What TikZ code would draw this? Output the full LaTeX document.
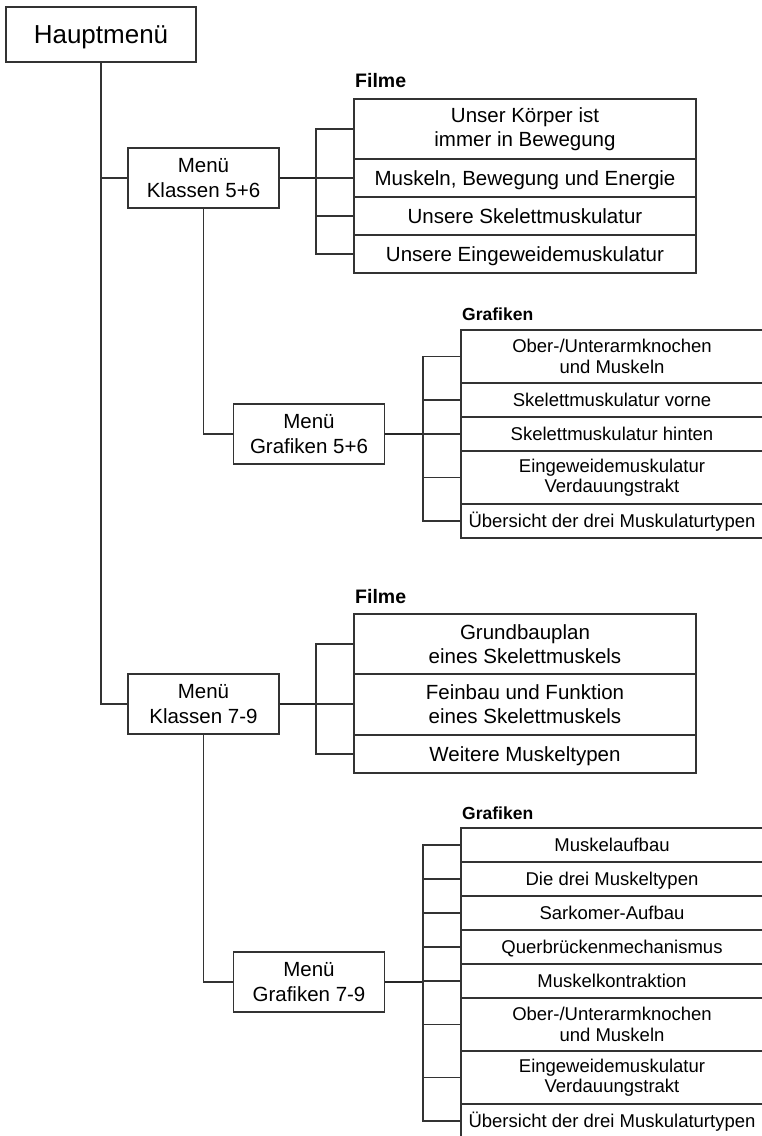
\documentclass[tikz,border=0pt]{standalone}
\usepackage{fontspec}
\setmainfont{Liberation Sans}

\begin{document}
\begin{tikzpicture}[x = 1pt, y = -1pt,
  menu/.style = {draw = black!80, line width = 1.2pt, fill = white, inner sep = 0pt, align = center,
    minimum width = 151pt, minimum height = 60pt, font = \fontsize{20.5}{24.5}\selectfont},
  top/.style = {menu, line width = 2pt, minimum width = 190pt, minimum height = 55pt,
    font = \fontsize{26}{30}\selectfont, text height = 18.6pt, text depth = 0pt},
  film/.style = {draw = black!80, line width = 1.2pt, inner sep = 0pt, align = center,
    minimum width = 342pt, font = \fontsize{20.5}{23.5}\selectfont},
  grafik/.style = {draw = black!80, line width = 1.2pt, inner sep = 0pt, align = center,
    minimum width = 302pt, font = \fontsize{18.5}{20.5}\selectfont},
  filmline/.style = {film, text height = 14.7pt, text depth = 0pt},
  grafikline/.style = {grafik, text height = 13.2pt, text depth = 0pt},
  head/.style = {anchor = west, inner sep = 0pt, font = \bfseries\fontsize{19.5}{22}\selectfont},
  subhead/.style = {head, font = \bfseries\fontsize{17.5}{20}\selectfont},
  link/.style = {draw = black!80, line width = 1.2pt},
  trunk/.style = {draw = black!85, line width = 1.8pt}]
\useasboundingbox (0, 0) rectangle (761, 1136);

% menus
\node[top] (haupt) at (101, 34.5){Hauptmen\"u};
\node[menu] (k56) at (203.5, 178){Men\"u\\Klassen 5+6};
\node[menu] (g56) at (309, 434){Men\"u\\Grafiken 5+6};
\node[menu] (k79) at (203.5, 704){Men\"u\\Klassen 7-9};
\node[menu] (g79) at (309, 982){Men\"u\\Grafiken 7-9};

% Filme 5+6
\node[head] (filmA) at (355, 81){Filme};
\node[film, minimum height = 60pt] (fa1) at (525, 129){Unser K\"orper ist\\immer in Bewegung};
\node[filmline, minimum height = 38pt] (fa2) at (525, 178){Muskeln, Bewegung und Energie};
\node[filmline, minimum height = 38pt] (fa3) at (525, 216){Unsere Skelettmuskulatur};
\node[filmline, minimum height = 38pt] (fa4) at (525, 254){Unsere Eingeweidemuskulatur};

% Grafiken 5+6
\node[subhead] (grafA) at (462, 314){Grafiken};
\node[grafik, minimum height = 53pt] (ga1) at (612, 356.5){Ober-/Unterarmknochen\\und Muskeln};
\node[grafikline, minimum height = 34pt] (ga2) at (612, 400){Skelettmuskulatur vorne};
\node[grafikline, minimum height = 34pt] (ga3) at (612, 434){Skelettmuskulatur hinten};
\node[grafik, minimum height = 53pt] (ga4) at (612, 477.5){Eingeweidemuskulatur\\Verdauungstrakt};
\node[grafikline, minimum height = 34pt] (ga5) at (612, 521){\"Ubersicht der drei Muskulaturtypen};

% Filme 7-9
\node[head] (filmB) at (355, 596.5){Filme};
\node[film, minimum height = 60pt] (fb1) at (525, 644){Grundbauplan\\eines Skelettmuskels};
\node[film, minimum height = 61pt] (fb2) at (525, 704){Feinbau und Funktion\\eines Skelettmuskels};
\node[filmline, minimum height = 38pt] (fb3) at (525, 754){Weitere Muskeltypen};

% Grafiken 7-9
\node[subhead] (grafB) at (462, 813){Grafiken};
\node[grafikline, minimum height = 34pt] (gb1) at (612, 845){Muskelaufbau};
\node[grafikline, minimum height = 34pt] (gb2) at (612, 879){Die drei Muskeltypen};
\node[grafikline, minimum height = 34pt] (gb3) at (612, 913){Sarkomer-Aufbau};
\node[grafikline, minimum height = 34pt] (gb4) at (612, 947){Querbr\"uckenmechanismus};
\node[grafikline, minimum height = 34pt] (gb5) at (612, 981){Muskelkontraktion};
\node[grafik, minimum height = 53pt] (gb6) at (612, 1024.5){Ober-/Unterarmknochen\\und Muskeln};
\node[grafik, minimum height = 53pt] (gb7) at (612, 1077.5){Eingeweidemuskulatur\\Verdauungstrakt};
\node[grafikline, minimum height = 34pt] (gb8) at (612, 1121){\"Ubersicht der drei Muskulaturtypen};

% branch points
\coordinate (bk56) at (316, 178);
\coordinate (bg56) at (423, 434);
\coordinate (bk79) at (316, 704);
\coordinate (bg79) at (423, 982);

% tree
\draw[link] (haupt.south) |- (k56.west);
\draw[link] (haupt.south) |- (k79.west);
\draw[link] (k56.south) |- (g56.west);
\draw[link] (k79.south) |- (g79.west);

\draw[trunk] (k56.east) -- (bk56);
\draw[link] (bk56) |- (fa1.west);
\draw[link] (bk56) |- (fa2.west);
\draw[link] (bk56) |- (fa3.west);
\draw[link] (bk56) |- (fa4.west);

\draw[trunk] (g56.east) -- (bg56);
\draw[link] (bg56) |- (ga1.west);
\draw[link] (bg56) |- (ga2.west);
\draw[link] (bg56) |- (ga3.west);
\draw[link] (bg56) |- (ga4.west);
\draw[link] (bg56) |- (ga5.west);

\draw[trunk] (k79.east) -- (bk79);
\draw[link] (bk79) |- (fb1.west);
\draw[link] (bk79) |- (fb2.west);
\draw[link] (bk79) |- (fb3.west);

\draw[trunk] (g79.east) -- (bg79);
\draw[link] (bg79) |- (gb1.west);
\draw[link] (bg79) |- (gb2.west);
\draw[link] (bg79) |- (gb3.west);
\draw[link] (bg79) |- (gb4.west);
\draw[link] (bg79) |- (gb5.west);
\draw[link] (bg79) |- (gb6.west);
\draw[link] (bg79) |- (gb7.west);
\draw[link] (bg79) |- (gb8.west);
\end{tikzpicture}
\end{document}
